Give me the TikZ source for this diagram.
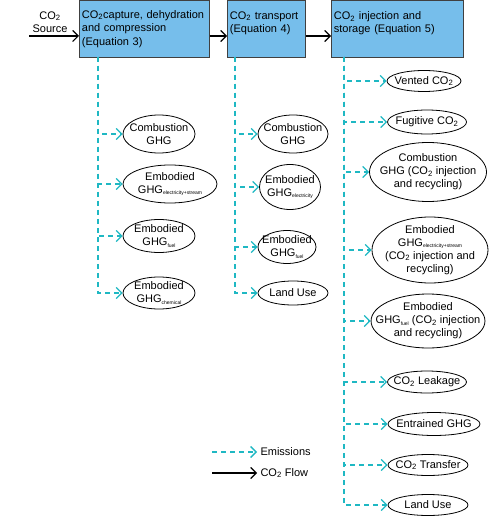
\documentclass[tikz,border=0pt]{standalone}
\usepackage{fontspec}
\setmainfont{Liberation Sans}
\usepackage{tikz}
\usetikzlibrary{arrows.meta,shapes.geometric}

\definecolor{BoxBlue}{HTML}{76BEEB}
\definecolor{EmTeal}{HTML}{1FB8C3}
\newcommand{\cotwo}{CO\textsubscript{2}}
\newcommand{\lowsub}[1]{\raisebox{-1.2pt}{\fontsize{5}{5}\selectfont #1}}

\begin{document}
\begin{tikzpicture}[
                    x = 1pt, y = -1pt,
                    >={Straight Barb[length=5.5pt,width=11pt]},
                    every node/.append style = {font=\fontsize{11}{13.5}\selectfont},
                    box/.style = {draw=black!75, fill=BoxBlue, anchor=north west, align=left,
                                  minimum height=57pt, inner xsep=2.5pt, inner ysep=0pt, line width=0.8pt},
                    ell/.style = {draw, ellipse, align=center, inner xsep=-12pt, inner ysep=-8pt,
                                  line width=0.8pt, font=\fontsize{11}{13}\selectfont},
                    flow/.style = {->, line width=1.2pt},
                    emis/.style = {->, line width=1.3pt, color=EmTeal, dash pattern=on 5pt off 4pt},
                    hv/.style = {to path={|- (\tikztotarget) \tikztonodes}}
                    ]
\useasboundingbox (0,0) rectangle (500,526);

% process boxes
\node[box, text width=125pt] (b1) at (79,0)  {\cotwo capture, dehydration\\and compression\\(Equation 3)};
\node[box, text width=73pt]  (b2) at (227,0) {\cotwo{} transport\\(Equation 4)\\\mbox{}};
\node[box, text width=127pt] (b3) at (331,0) {\cotwo{} injection and\\storage (Equation 5)\\\mbox{}};

\node[align=center] (src) at (50,22) {\cotwo\\Source};
\coordinate (s0) at (29,36);

\path[flow]
    (s0)             edge (b1.west |- s0)
    (b1.east |- s0)  edge (b2.west |- s0)
    (b2.east |- s0)  edge (b3.west |- s0);

% emissions, capture
\node[ell, minimum width=72pt, minimum height=38pt] (e11) at (159,134) {Combustion\\GHG};
\node[ell, minimum width=94pt, minimum height=38pt] (e12) at (170,184) {Embodied\\GHG\lowsub{electricity+stream}};
\node[ell, minimum width=72pt, minimum height=33pt] (e13) at (159,236) {Embodied\\GHG\lowsub{fuel}};
\node[ell, minimum width=72pt, minimum height=32pt] (e14) at (159,293) {Embodied\\GHG\lowsub{chemical}};

% emissions, transport
\node[ell, minimum width=70pt, minimum height=38pt] (e21) at (293,134) {Combustion\\GHG};
\node[ell, minimum width=61pt, minimum height=45pt] (e22) at (290,187) {Embodied\\GHG\lowsub{electricity}};
\node[ell, minimum width=58pt, minimum height=33pt] (e23) at (287,247) {Embodied\\GHG\lowsub{fuel}};
\node[ell, minimum width=70pt, minimum height=24pt] (e24) at (293,293) {Land Use};

% emissions, injection and storage
\node[ell, minimum width=74pt,  minimum height=21pt] (e31) at (424,81)  {Vented \cotwo};
\node[ell, minimum width=79pt,  minimum height=24pt] (e32) at (427,122) {Fugitive \cotwo};
\node[ell, minimum width=117pt, minimum height=59pt] (e33) at (428,172) {Combustion\\GHG (\cotwo{} injection\\and recycling)};
\node[ell, minimum width=116pt, minimum height=66pt] (e34) at (430,250) {Embodied\\GHG\lowsub{electricity+stream}\\(\cotwo{} injection and\\recycling)};
\node[ell, minimum width=113pt, minimum height=54pt] (e35) at (428,321) {Embodied\\GHG\lowsub{fuel} (\cotwo{} injection\\and recycling)};
\node[ell, minimum width=79pt,  minimum height=22pt] (e36) at (427,382) {\cotwo{} Leakage};
\node[ell, minimum width=92pt,  minimum height=23pt] (e37) at (434,424) {Entrained GHG};
\node[ell, minimum width=80pt,  minimum height=21pt] (e38) at (428,465) {\cotwo{} Transfer};
\node[ell, minimum width=80pt,  minimum height=21pt] (e39) at (428,505) {Land Use};

\coordinate (c1) at (98,57);
\coordinate (c2) at (235,57);
\coordinate (c3) at (344,57);

\path[emis]
    (c1) edge[hv] (e11) edge[hv] (e12) edge[hv] (e13) edge[hv] (e14)
    (c2) edge[hv] (e21) edge[hv] (e22) edge[hv] (e23) edge[hv] (e24)
    (c3) edge[hv] (e31) edge[hv] (e32) edge[hv] (e33) edge[hv] (e34) edge[hv] (e35)
         edge[hv] (e36) edge[hv] (e37) edge[hv] (e38) edge[hv] (e39);

% legend
\coordinate (l1) at (212,452);
\coordinate (l2) at (212,473);
\node[anchor=west] (lgE) at (257,452) {Emissions};
\node[anchor=west] (lgF) at (257,473) {\cotwo{} Flow};
\path[emis] (l1) edge (lgE);
\path[flow] (l2) edge (lgF);
\end{tikzpicture}
\end{document}
